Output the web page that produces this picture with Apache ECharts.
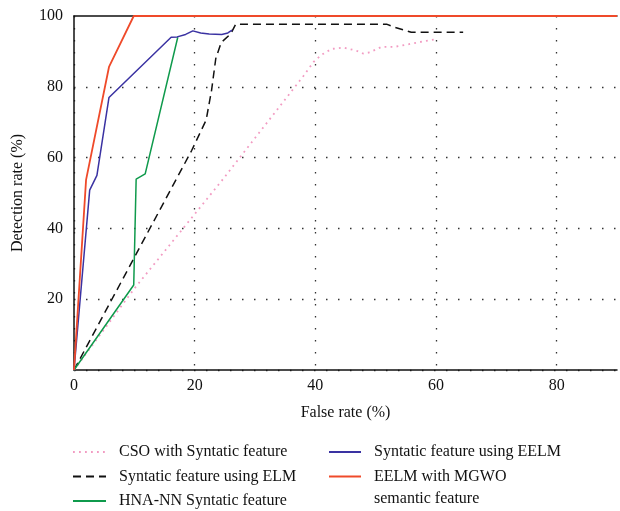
<!DOCTYPE html>
<html>
<head>
<meta charset="utf-8">
<script src="https://cdn.jsdelivr.net/npm/echarts@6/dist/echarts.min.js"></script>
<style>html,body{margin:0;padding:0;background:#fff}#c{width:620px;height:511px}</style>
</head>
<body>
<div id="c"></div>
<script>
// Data (x = False rate %, y = Detection rate %)
const seriesNames = [
  "CSO with Syntatic feature",
  "Syntatic feature using ELM",
  "HNA-NN Syntatic feature",
  "Syntatic feature using EELM",
  "EELM with MGWO"
];
const legendSecondLine = "semantic feature";
const xTicks = [0, 20, 40, 60, 80];
const yTicks = [20, 40, 60, 80, 100];

const csoData = [[0,0],[10,23],[24.5,53.5],[38,83],[39.7,87],[41,89],[42.7,90.7],[44.6,91.1],[46.8,90.2],[47.9,89.4],[49,89.7],[51,91.3],[53.2,91.3],[55.4,92],[58.4,93],[60,93.4]];
const elmData = [[0,0],[19.5,62],[21.9,70.6],[22.8,79],[23.5,88],[24.4,92.5],[26,95],[26.8,97.7],[51.8,97.7],[53.2,96.8],[55.9,95.4],[64.5,95.4]];
const hnaData = [[0,0],[9.9,24],[10.3,53.9],[11.8,55.4],[17.2,94]];
const eelmData = [[0,0],[2.6,50.8],[3.8,55],[5.8,77],[16.1,94],[17.1,94.1],[18.5,94.8],[19.7,95.8],[21,95.2],[22.4,94.9],[24.5,94.8],[25.5,95.2],[26.2,96]];
const mgwoData = [[0,0],[2.0,53.7],[5.8,85.6],[9.9,100],[90,100]];

const serif = "'Liberation Serif','DejaVu Serif',serif";
const chart = echarts.init(document.getElementById('c'), null, {renderer:'canvas'});
const gridColor = '#333';
const legendText = {fontFamily: serif, fontSize: 16, color: '#111', lineHeight: 20, padding: [0,0,0,8]};
const option = {
  animation: false,
  backgroundColor: '#fff',
  grid: {left: 74, right: 0, top: 16, bottom: 141, containLabel: false},
  xAxis: [{
    type: 'value', min: 0, max: 90, interval: 20,
    name: 'False rate (%)', nameLocation: 'middle', nameGap: 35,
    nameTextStyle: {fontFamily: serif, fontSize: 16, color: '#111'},
    axisLine: {show: true, lineStyle: {color: '#111', width: 1.5}},
    axisTick: {show: false},
    axisLabel: {fontFamily: serif, fontSize: 16, color: '#111', margin: 8,
      formatter: v => xTicks.includes(v) ? String(v) : ''},
    splitLine: {show: true, showMaxLine: false, lineStyle: {color: gridColor, type: [1.5, 10.5], width: 1.3}}
  }, {
    type: 'value', position: 'top', min: 0, max: 90, interval: 20,
    axisLine: {show: true, lineStyle: {color: '#111', width: 1.5}},
    axisTick: {show: false}, axisLabel: {show: false}, splitLine: {show: false}
  }],
  yAxis: {
    type: 'value', min: 0, max: 100, interval: 20,
    name: 'Detection rate (%)', nameLocation: 'middle', nameGap: 48,
    nameTextStyle: {fontFamily: serif, fontSize: 16, color: '#111'},
    axisLine: {show: true, lineStyle: {color: '#111', width: 1.5}},
    axisTick: {show: false},
    axisLabel: {fontFamily: serif, fontSize: 16, color: '#111', margin: 11,
      formatter: v => yTicks.includes(v) ? String(v) : ''},
    splitLine: {show: true, showMaxLine: false, lineStyle: {color: gridColor, type: [1.5, 10.5], width: 1.3}}
  },
  legend: [{
    orient: 'vertical', left: 72, top: 442, padding: 0, itemGap: 4.5,
    itemWidth: 33, itemHeight: 14, itemStyle: {opacity: 0},
    data: [seriesNames[0], seriesNames[1], seriesNames[2]],
    textStyle: legendText
  }, {
    orient: 'vertical', left: 328, top: 442, padding: 0, itemGap: 4.5,
    itemWidth: 32, itemHeight: 14, itemStyle: {opacity: 0},
    data: [seriesNames[3], seriesNames[4]],
    textStyle: legendText
  }],
  graphic: [{
    type: 'text', left: 374, top: 491,
    style: {text: legendSecondLine, font: "16px 'Liberation Serif','DejaVu Serif',serif", fill: '#111'}
  }],
  series: [
    {name: seriesNames[0], type: 'line', data: csoData, symbol: 'none', z: 2,
      lineStyle: {color: '#f29bc2', width: 1.8, type: [1.8, 4.2]}, itemStyle: {color: '#f29bc2'}},
    {name: seriesNames[1], type: 'line', data: elmData, symbol: 'none', z: 3,
      lineStyle: {color: '#111', width: 1.5, type: [8, 5]}, itemStyle: {color: '#111'}},
    {name: seriesNames[2], type: 'line', data: hnaData, symbol: 'none', z: 4,
      lineStyle: {color: '#0f9a4c', width: 1.5}, itemStyle: {color: '#0f9a4c'}},
    {name: seriesNames[3], type: 'line', data: eelmData, symbol: 'none', z: 5,
      lineStyle: {color: '#3a32a2', width: 1.5}, itemStyle: {color: '#3a32a2'}},
    {name: seriesNames[4], type: 'line', data: mgwoData, symbol: 'none', z: 6,
      lineStyle: {color: '#ef4a2a', width: 1.8}, itemStyle: {color: '#ef4a2a'}}
  ]
};
chart.setOption(option);
</script>
</body>
</html>
